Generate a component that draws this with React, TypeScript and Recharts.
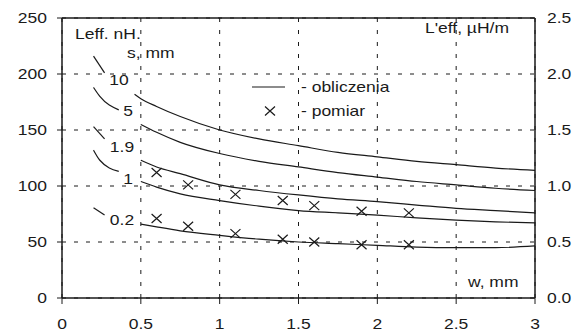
import { ComposedChart, Line, XAxis, YAxis, CartesianGrid, ReferenceLine } from 'recharts'

// osie
const wTicks = [0, 0.5, 1, 1.5, 2, 2.5, 3]
const leftTicks = [0, 50, 100, 150, 200, 250]
const rightTicks = [0, 0.5, 1, 1.5, 2, 2.5]
const wMinor = [0, 0.25, 0.5, 0.75, 1, 1.25, 1.5, 1.75, 2, 2.25, 2.5, 2.75, 3]
const leftMinor = [0, 10, 20, 30, 40, 50, 60, 70, 80, 90, 100, 110, 120, 130, 140, 150, 160, 170, 180, 190, 200, 210, 220, 230, 240, 250]
const rightMinor = [0, 0.1, 0.2, 0.3, 0.4, 0.5, 0.6, 0.7, 0.8, 0.9, 1, 1.1, 1.2, 1.3, 1.4, 1.5, 1.6, 1.7, 1.8, 1.9, 2, 2.1, 2.2, 2.3, 2.4, 2.5]

// obliczenia, Leff [nH] dla kolejnych s [mm]
const wCalc = [0.5, 0.6, 0.75, 1, 1.25, 1.5, 1.75, 2, 2.25, 2.5, 2.75, 3]
const calc10 = [178, 171, 162, 150, 142, 136, 130, 126, 122, 119, 116, 114]
const calc5 = [155, 148, 139, 129, 122, 117, 112, 108, 104, 101, 98, 96]
const calc19 = [123, 117, 111, 101, 96, 92, 88.5, 86, 83, 80, 78, 76]
const calc1 = [104, 99, 93, 87, 82, 78, 76, 74, 71.5, 69.5, 68, 67]
const calc02 = [66, 63.5, 60, 56, 52.5, 50, 48.5, 47, 45.5, 45, 45, 46.5]

// pomiar
const wMeas = [0.6, 0.8, 1.1, 1.4, 1.6, 1.9, 2.2]
const measUpper = [112, 101, 92.5, 87, 82.5, 77.5, 76]
const measLower = [71, 64, 57.5, 52.5, 50, 47.5, 47.5]

// odnośniki do opisów krzywych
const lead10 = [{ w: 0.2, v: 216 }, { w: 0.27, v: 201 }]
const lead5 = [{ w: 0.2, v: 188 }, { w: 0.24, v: 180 }, { w: 0.36, v: 168 }]
const lead19 = [{ w: 0.2, v: 153 }, { w: 0.27, v: 142 }]
const lead1 = [{ w: 0.2, v: 132 }, { w: 0.24, v: 123 }, { w: 0.36, v: 113 }]
const lead02 = [{ w: 0.2, v: 80.5 }, { w: 0.27, v: 74 }]

const toPts = (ws: number[], vs: number[]) => ws.map((w, i) => ({ w, v: vs[i] }))

const INK = '#1a1a1a'
const SX = 1.25

const Txt = ({ x, y, anchor = 'start', children }: { x: number; y: number; anchor?: string; children: any }) => (
  <text
    transform={`translate(${x},${y}) scale(${SX},1)`}
    textAnchor={anchor}
    dy="0.36em"
    fontSize={14}
    fontFamily="'Liberation Sans', Arial, sans-serif"
    fill={INK}
  >
    {children}
  </text>
)

const LeftTick = (p: any) => <Txt x={p.x} y={p.y} anchor="end">{p.payload.value}</Txt>
const RightTick = (p: any) => <Txt x={p.x} y={p.y}>{Number(p.payload.value).toFixed(1)}</Txt>
const BottomTick = (p: any) => <Txt x={p.x} y={p.y} anchor="middle">{p.payload.value}</Txt>

const Cross = (p: any) => {
  const { cx, cy } = p
  if (cx == null || cy == null) return <g key={p.key} />
  return (
    <path
      key={p.key}
      d={`M${cx - 5},${cy - 4.5}L${cx + 5},${cy + 4.5}M${cx + 5},${cy - 4.5}L${cx - 5},${cy + 4.5}`}
      stroke={INK}
      strokeWidth={1.2}
      fill="none"
    />
  )
}

export default function App() {
  const curves = [calc10, calc5, calc19, calc1, calc02]
  const leads = [lead10, lead5, lead19, lead1, lead02]
  const lineProps = { type: 'monotone' as const, dataKey: 'v', dot: false, stroke: INK, strokeWidth: 1.2, isAnimationActive: false }

  return (
    <div style={{ position: 'absolute', left: 0, top: 0, width: 577, height: 332, background: '#fff' }}>
      <ComposedChart width={577} height={332} margin={{ top: 18, right: 0, bottom: 0, left: 0 }}>
        <CartesianGrid stroke={INK} strokeDasharray="4 8" />
        <XAxis
          type="number"
          dataKey="w"
          domain={[0, 3]}
          ticks={wTicks}
          allowDataOverflow
          height={34}
          tickSize={6}
          tickMargin={20}
          tick={BottomTick}
          axisLine={{ stroke: INK, strokeWidth: 1.5 }}
          tickLine={{ stroke: INK }}
        />
        <XAxis xAxisId="minor" type="number" dataKey="w" domain={[0, 3]} ticks={wMinor} allowDataOverflow mirror height={0} tickSize={5} tick={false} axisLine={false} tickLine={{ stroke: INK }} />
        <YAxis
          domain={[0, 250]}
          ticks={leftTicks}
          allowDataOverflow
          width={62}
          tickSize={5}
          tickMargin={10}
          tick={LeftTick}
          axisLine={{ stroke: INK, strokeWidth: 1.5 }}
          tickLine={{ stroke: INK }}
        />
        <YAxis yAxisId="minorL" domain={[0, 250]} ticks={leftMinor} allowDataOverflow mirror width={0} tickSize={5} tick={false} axisLine={false} tickLine={{ stroke: INK }} />
        <YAxis
          yAxisId="r"
          orientation="right"
          domain={[0, 2.5]}
          ticks={rightTicks}
          allowDataOverflow
          width={42}
          tickSize={0}
          tickMargin={12}
          tick={RightTick}
          axisLine={{ stroke: INK, strokeWidth: 1.5 }}
          tickLine={false}
        />
        <YAxis yAxisId="minorR" orientation="right" domain={[0, 2.5]} ticks={rightMinor} allowDataOverflow mirror width={0} tickSize={5} tick={false} axisLine={false} tickLine={{ stroke: INK }} />
        <ReferenceLine y={250} stroke={INK} strokeWidth={1.5} />

        {curves.map((c, i) => (
          <Line key={`c${i}`} {...lineProps} data={i === 0 ? [{ w: 0.46, v: 182 }, ...toPts(wCalc, c)] : toPts(wCalc, c)} />
        ))}
        {leads.map((l, i) => (
          <Line key={`l${i}`} {...lineProps} data={l} />
        ))}
        <Line type="linear" dataKey="v" data={toPts(wMeas, measUpper)} stroke="none" dot={Cross} isAnimationActive={false} />
        <Line type="linear" dataKey="v" data={toPts(wMeas, measLower)} stroke="none" dot={Cross} isAnimationActive={false} />
      </ComposedChart>

      <svg width={577} height={332} style={{ position: 'absolute', left: 0, top: 0, pointerEvents: 'none' }}>
        <Txt x={75} y={34}>Leff. nH.</Txt>
        <Txt x={127} y={53}>s, mm</Txt>
        <Txt x={509} y={28} anchor="end">L'eff, µH/m</Txt>
        <Txt x={468} y={282}>w, mm</Txt>

        <Txt x={119} y={80} anchor="middle">10</Txt>
        <Txt x={128} y={111} anchor="middle">5</Txt>
        <Txt x={122} y={147} anchor="middle">1.9</Txt>
        <Txt x={128} y={179} anchor="middle">1</Txt>
        <Txt x={122} y={220} anchor="middle">0.2</Txt>

        <line x1={252} y1={87} x2={285} y2={87} stroke={INK} strokeWidth={1.2} />
        <Txt x={301} y={87}>- obliczenia</Txt>
        <path d="M265,106.5L275,115.5M275,106.5L265,115.5" stroke={INK} strokeWidth={1.2} />
        <Txt x={301} y={111}>- pomiar</Txt>
      </svg>
    </div>
  )
}
